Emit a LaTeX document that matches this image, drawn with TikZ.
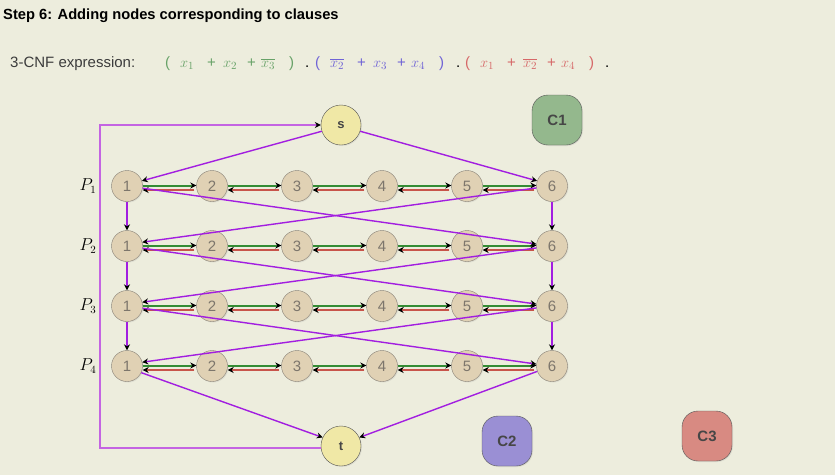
\documentclass[tikz,border=0pt]{standalone}
\usepackage{fontspec}
\setsansfont{Liberation Sans}
\usepackage{amsmath}
\usetikzlibrary{positioning,arrows.meta,shadows}
\definecolor{paper}{RGB}{237,237,221}
\definecolor{vertfill}{RGB}{224,209,180}
\definecolor{vertline}{RGB}{135,128,118}
\definecolor{verttext}{RGB}{125,118,108}
\definecolor{termfill}{RGB}{240,232,166}
\definecolor{termline}{RGB}{85,85,85}
\definecolor{termtext}{RGB}{70,70,70}
\definecolor{cone}{RGB}{148,184,141}
\definecolor{ctwo}{RGB}{154,143,212}
\definecolor{cthree}{RGB}{216,138,130}
\definecolor{edgegreen}{RGB}{52,140,52}
\definecolor{edgered}{RGB}{200,84,74}
\definecolor{edgepurple}{RGB}{162,30,224}
\definecolor{looppurple}{RGB}{196,100,226}
\definecolor{litgreen}{RGB}{104,162,104}
\definecolor{litblue}{RGB}{112,100,214}
\definecolor{litred}{RGB}{214,104,104}
\newcommand\cnfclause[4]{\textcolor{#1}{\makebox[15pt][l]{(}\makebox[27pt][l]{$#2$}\makebox[16pt][l]{+}\makebox[24pt][l]{$#3$}\makebox[14pt][l]{+}\makebox[28pt][l]{$#4$})}}
\tikzset{
  vert/.style={circle,draw=vertline,fill=vertfill,minimum size=31pt,inner sep=0pt,
    text=verttext,font=\sffamily\fontsize{15}{15}\selectfont,
    drop shadow={shadow xshift=1pt,shadow yshift=-1pt,opacity=0.15}},
  term/.style={circle,draw=termline,fill=termfill,minimum size=40pt,inner sep=0pt,
    text=termtext,font=\sffamily\bfseries\fontsize{13}{13}\selectfont,
    drop shadow={shadow xshift=1pt,shadow yshift=-1pt,opacity=0.15}},
  clausebox/.style={rectangle,rounded corners=16pt,draw=termline,minimum size=50pt,inner sep=0pt,
    text=termtext,font=\sffamily\bfseries\fontsize{15}{15}\selectfont,
    drop shadow={shadow xshift=1pt,shadow yshift=-1pt,opacity=0.15}},
  grn/.style={draw=edgegreen,line width=2pt,-{Stealth[color=black,length=6pt,width=6pt]}},
  rd/.style={draw=edgered,line width=2pt,-{Stealth[color=black,length=6pt,width=6pt]}},
  pur/.style={draw=edgepurple,line width=1.4pt,-{Stealth[color=black,length=6pt,width=6pt]}},
  loopline/.style={draw=looppurple,line width=1.4pt,-{Stealth[color=black,length=6pt,width=6pt]}},
  txt/.style={anchor=base west,inner sep=0pt,font=\sffamily\fontsize{15}{15}\selectfont},
  lit/.style={txt,font=\sffamily\fontsize{15}{15}\selectfont}
}
\begin{document}
\begin{tikzpicture}[x=1pt,y=-1pt]
    \fill[paper] (0,0) rectangle (835,475);
    \useasboundingbox (0,0) rectangle (835,475);
    \node[txt,font=\sffamily\bfseries\fontsize{14.7}{15}\selectfont] (title) at (3,19) {Step 6: Adding nodes corresponding to clauses};
    \node[txt,text={rgb,255:red,60;green,60;blue,60}] (cnf) at (10,67) {3-CNF expression:};
    \node[lit] (cl1) at (165,67) {\cnfclause{litgreen}{x_1}{x_2}{\overline{x_3}}};
    \node[lit] (cl2) at (315,67) {\cnfclause{litblue}{\overline{x_2}}{x_3}{x_4}};
    \node[lit] (cl3) at (465,67) {\cnfclause{litred}{x_1}{\overline{x_2}}{x_4}};
    \node[txt] (dot1) at (305,67) {.};
    \node[txt] (dot2) at (456,67) {.};
    \node[txt] (dot3) at (605,67) {.};
    \node[term] (s) at (341,125) {s};
    \node[term] (t) at (341,446) {t};
    \node[clausebox,fill=cone] (c1) at (557,120) {C1};
    \node[clausebox,fill=ctwo] (c2) at (507,441) {C2};
    \node[clausebox,fill=cthree] (c3) at (707,436) {C3};
    \foreach \r in {1,...,4} {
        \node[font=\fontsize{16}{16}\selectfont] (lab\r) at (88,{186+60*(\r-1)}) {$P_{\r}$};
        \foreach \c in {1,...,6}
            \node[vert] (v\r\c) at ({127+85*(\c-1)},{186+60*(\r-1)}) {\c};
    }
    \foreach \r in {1,...,4} {
        \foreach \c/\d in {1/2,2/3,3/4,4/5,5/6} {
            \draw[grn] ([yshift=0.5pt]v\r\c.east) -- ([yshift=0.5pt]v\r\d.west);
            \draw[rd] ([yshift=-4pt,xshift=-2pt]v\r\d.west) -- ([yshift=-4pt]v\r\c.east);
        }
    }
    \draw[pur] (s.198) -- (v11.19);
    \draw[pur] (s.-18) -- (v16.161);
    \foreach \r/\d in {1/2,2/3,3/4} {
        \draw[pur] (v\r1.south) -- (v\d1.north);
        \draw[pur] (v\r6.south) -- (v\d6.north);
        \draw[pur] (v\r1.-8) -- (v\d6.173);
        \draw[pur] (v\r6.187) -- (v\d1.14);
    }
    \draw[pur] (v41.-25) -- (t.155);
    \draw[pur] (v46.200) -- (t.25);
    \coordinate (bend) at (100,300);
    \draw[loopline] (t.186) -| (bend) |- (s.west);
\end{tikzpicture}
\end{document}
